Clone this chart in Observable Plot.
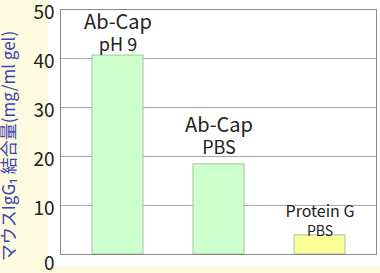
<!DOCTYPE html>
<html><head><meta charset="utf-8">
<script src="https://cdn.jsdelivr.net/npm/d3@7"></script>
<script src="https://cdn.jsdelivr.net/npm/@observablehq/plot@0.6"></script>
<style>
html,body{margin:0;padding:0;background:#fdfbdf;}
#wrap{position:relative;width:380px;height:273px;overflow:hidden;}
#white{position:absolute;left:48px;top:0;width:332px;height:266px;background:#fff;}
#chart{position:absolute;left:0;top:0;}
svg{background:transparent!important;overflow:visible;}
</style></head><body>
<div id="wrap"><div id="white"></div><div id="chart"></div></div>
<script>
const categories = ["Ab-Cap pH 9", "Ab-Cap PBS", "Protein G PBS"];
const values = [40.6, 18.4, 3.9];
const line1 = ["Ab-Cap", "Ab-Cap", "Protein G"];
const line2 = ["pH 9", "PBS", "PBS"];
const fills = ["#ccffcc", "#ccffcc", "#ffff99"];
const yTicks = [0, 10, 20, 30, 40, 50];
const yTitle = "マウスIgG₁ 結合量(mg/ml gel)";

const data = categories.map((c, i) => ({cat: c, v: values[i], l1: line1[i], l2: line2[i], fill: fills[i]}));
const font = "'Noto Sans CJK JP', 'Noto Sans', sans-serif";

const lbl = (i, dy1, dy2, fs1, fs2) => [
  Plot.text([data[i]], {x: "cat", y: "v", text: "l1", dy: dy1, fontSize: fs1, fill: "#222", lineAnchor: "middle"}),
  Plot.text([data[i]], {x: "cat", y: "v", text: "l2", dy: dy2, fontSize: fs2, fill: "#222", lineAnchor: "middle"})
];

const chart = Plot.plot({
  width: 380, height: 273,
  marginLeft: 60, marginRight: 4, marginTop: 9, marginBottom: 19,
  style: {fontFamily: font, background: "transparent"},
  x: {domain: categories, paddingInner: 0.5, paddingOuter: 0.31, axis: null},
  y: {domain: [0, 50], ticks: yTicks, label: null, axis: null},
  marks: [
    Plot.gridY(yTicks, {stroke: "#aaa", strokeOpacity: 1}),
    Plot.barY(data, {x: "cat", y: "v", fill: "fill", stroke: "#a3c4a3", strokeWidth: 1}),
    Plot.frame({stroke: "#888"}),
    Plot.axisY(yTicks.filter(d => d > 0), {tickSize: 0, tickPadding: 6, fontSize: 19, fill: "#222", dy: 3, label: null}),
    Plot.axisY([0], {tickSize: 0, tickPadding: 6, fontSize: 19, fill: "#222", dy: 9, label: null}),
    Plot.text([yTitle], {frameAnchor: "left", textAnchor: "middle", rotate: -90, dx: -51, dy: 14, fontSize: 17, fill: "#3f3fb4"}),
    ...lbl(0, -33, -10, 20, 18),
    ...lbl(1, -39, -16, 20, 18),
    ...lbl(2, -24, -4, 16, 14)
  ]
});
document.getElementById("chart").appendChild(chart);
</script></body></html>
